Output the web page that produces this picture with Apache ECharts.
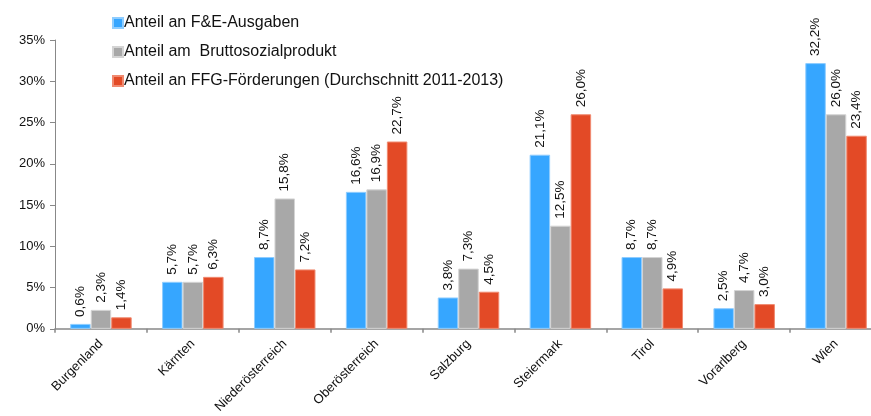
<!DOCTYPE html>
<html>
<head>
<meta charset="utf-8">
<script src="https://cdn.jsdelivr.net/npm/echarts@6/dist/echarts.min.js"></script>
<style>
  html, body { margin: 0; padding: 0; background: #fff; overflow: hidden; }
  #chart { width: 882px; height: 416px; }
</style>
</head>
<body>
<div id="chart"></div>
<script>
// Bundesländer
const regions = ['Burgenland', 'Kärnten', 'Niederösterreich', 'Oberösterreich', 'Salzburg',
  'Steiermark', 'Tirol', 'Vorarlberg', 'Wien'];
const seriesNames = ['Anteil an F&E-Ausgaben', 'Anteil am  Bruttosozialprodukt',
  'Anteil an FFG-Förderungen (Durchschnitt 2011-2013)'];
// Anteile in %
const feAusgaben = [0.6, 5.7, 8.7, 16.6, 3.8, 21.1, 8.7, 2.5, 32.2];
const bsp = [2.3, 5.7, 15.8, 16.9, 7.3, 12.5, 8.7, 4.7, 26.0];
const ffg = [1.4, 6.3, 7.2, 22.7, 4.5, 26.0, 4.9, 3.0, 23.4];
const colors = ['#36a6ff', '#a8a8a8', '#e34a26'];
const borders = ['#8fcdff', '#d4d4d4', '#f08a70'];

const font = 'Liberation Sans, Arial, sans-serif';
const pct = v => v.toFixed(1).replace('.', ',') + '%';

const chart = echarts.init(document.getElementById('chart'));

const option = {
  animation: false,
  textStyle: { fontFamily: font },
  legend: {
    orient: 'vertical',
    left: 107,
    top: 10,
    itemWidth: 10,
    itemHeight: 10,
    itemGap: 13,
    icon: 'rect',
    textStyle: { fontSize: 16, color: '#111', fontFamily: font, padding: [0, 0, 0, -4] },
    data: seriesNames
  },
  grid: { left: 55, right: 0, top: 40, bottom: 87 },
  xAxis: {
    type: 'category',
    data: regions,
    axisLine: { lineStyle: { color: '#888', width: 1.5 } },
    axisTick: { show: true, length: 4, lineStyle: { color: '#888', width: 1.5 } },
    axisLabel: { rotate: 45, fontSize: 13, color: '#111', margin: 13, fontFamily: font }
  },
  yAxis: {
    type: 'value',
    min: 0,
    max: 35,
    interval: 5,
    splitLine: { show: false },
    axisLine: { show: true, lineStyle: { color: '#888', width: 1 } },
    axisTick: { show: true, length: 5, lineStyle: { color: '#888' } },
    axisLabel: { fontSize: 13, color: '#111', margin: 10, fontFamily: font, formatter: v => v + '%' }
  },
  series: [feAusgaben, bsp, ffg].map((d, i) => ({
    name: seriesNames[i],
    type: 'bar',
    data: d,
    barWidth: 20.5,
    barGap: '0%',
    itemStyle: { color: colors[i], borderColor: borders[i], borderWidth: 1 },
    label: {
      show: true,
      position: 'top',
      rotate: 90,
      align: 'left',
      verticalAlign: 'middle',
      distance: 7,
      fontSize: 13.5,
      color: '#111',
      fontFamily: font,
      formatter: p => pct(p.value)
    }
  }))
};

chart.setOption(option);
</script>
</body>
</html>
